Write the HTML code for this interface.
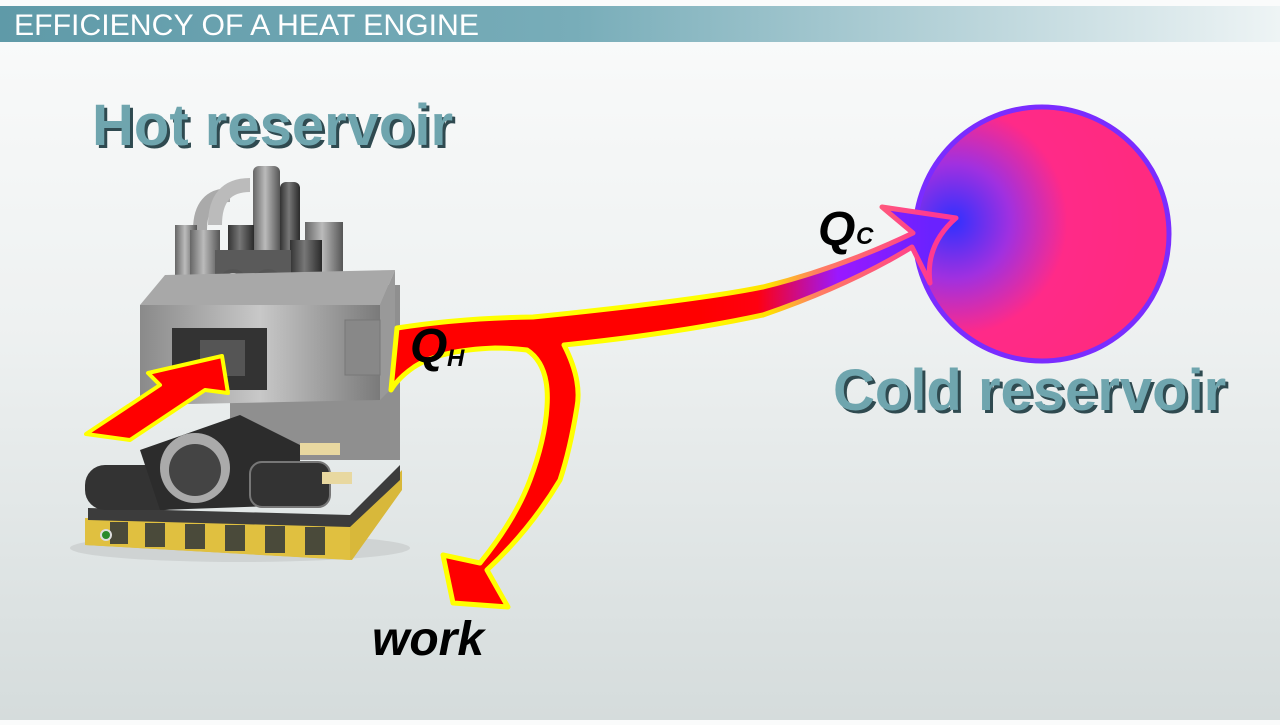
<!DOCTYPE html>
<html><head><style>
body{margin:0;width:1280px;height:720px;overflow:hidden;background:linear-gradient(180deg,#fafbfb 0%,#eef1f1 45%,#d5dcdc 100%);font-family:"Liberation Sans",sans-serif;}
</style></head><body>
<svg width="1280" height="720" viewBox="0 0 1280 720" xmlns="http://www.w3.org/2000/svg">
<defs>
<linearGradient id="hdr" x1="0" x2="1"><stop offset="0" stop-color="#5f9aa8"/><stop offset="0.45" stop-color="#78adb9"/><stop offset="1" stop-color="#eef4f5"/></linearGradient>
<linearGradient id="arr" x1="700" y1="0" x2="930" y2="0" gradientUnits="userSpaceOnUse"><stop offset="0" stop-color="#ff0000"/><stop offset="0.25" stop-color="#ff0010"/><stop offset="0.6" stop-color="#9a18ff"/><stop offset="1" stop-color="#6a22ff"/></linearGradient>
<linearGradient id="arrs" x1="700" y1="0" x2="930" y2="0" gradientUnits="userSpaceOnUse"><stop offset="0" stop-color="#ffff00"/><stop offset="0.3" stop-color="#ffe000"/><stop offset="0.5" stop-color="#ff8060"/><stop offset="1" stop-color="#ff3a90"/></linearGradient>
<radialGradient id="cir" cx="0.15" cy="0.45" r="0.75"><stop offset="0" stop-color="#3030ff"/><stop offset="0.3" stop-color="#a030e0"/><stop offset="0.6" stop-color="#ff2a88"/><stop offset="1" stop-color="#ff2a80"/></radialGradient>
<linearGradient id="metal" x1="0" x2="1"><stop offset="0" stop-color="#8a8a8a"/><stop offset="0.5" stop-color="#c8c8c8"/><stop offset="1" stop-color="#7a7a7a"/></linearGradient>
<linearGradient id="pipe" x1="0" x2="1"><stop offset="0" stop-color="#666"/><stop offset="0.45" stop-color="#bbb"/><stop offset="1" stop-color="#555"/></linearGradient>
<linearGradient id="dpipe" x1="0" x2="1"><stop offset="0" stop-color="#333"/><stop offset="0.45" stop-color="#777"/><stop offset="1" stop-color="#2a2a2a"/></linearGradient>
</defs>
<rect x="0" y="6" width="1280" height="36" fill="url(#hdr)"/>
<text x="14" y="35" font-size="30" fill="#fff" textLength="465" lengthAdjust="spacingAndGlyphs">EFFICIENCY OF A HEAT ENGINE</text>

<g font-weight="bold" font-size="58">
<text x="95" y="148" fill="#2f4a50">Hot reservoir</text>
<text x="92" y="145" fill="#6fa5ae">Hot reservoir</text>
<text x="836" y="413" fill="#2f4a50">Cold reservoir</text>
<text x="833" y="410" fill="#6fa5ae">Cold reservoir</text>
</g>

<!-- engine -->
<g>
<ellipse cx="240" cy="548" rx="170" ry="14" fill="#cfd3d3"/>
<polygon points="85,518 350,525 402,470 402,490 352,560 85,545" fill="#d8b83a"/>
<polygon points="85,518 350,525 350,560 85,545" fill="#e0c040"/>
<g fill="#4a4a3a"><rect x="110" y="522" width="18" height="22"/><rect x="145" y="523" width="20" height="24"/><rect x="185" y="524" width="20" height="25"/><rect x="225" y="525" width="20" height="26"/><rect x="265" y="526" width="20" height="27"/><rect x="305" y="527" width="20" height="28"/></g>
<circle cx="106" cy="535" r="5" fill="#2a8a2a" stroke="#ddd" stroke-width="2"/>
<polygon points="88,508 350,515 400,465 400,480 350,527 88,520" fill="#3c3c3c"/>
<polygon points="230,285 400,285 400,460 230,460" fill="#8f8f8f"/>
<path d="M200 230 Q200 195 230 195" stroke="#aaa" stroke-width="14" fill="none"/>
<path d="M215 225 Q215 185 250 185" stroke="#bbb" stroke-width="14" fill="none"/>
<rect x="175" y="225" width="22" height="75" fill="url(#pipe)"/>
<rect x="190" y="230" width="30" height="70" fill="url(#pipe)"/>
<rect x="253" y="166" width="27" height="120" rx="6" fill="url(#pipe)"/>
<rect x="280" y="182" width="20" height="100" rx="6" fill="url(#dpipe)"/>
<rect x="305" y="222" width="38" height="65" fill="url(#pipe)"/>
<rect x="228" y="225" width="26" height="60" fill="url(#dpipe)"/>
<rect x="290" y="240" width="32" height="60" fill="url(#dpipe)"/>
<rect x="215" y="250" width="76" height="45" fill="#5a5a5a"/>
<circle cx="233" cy="283" r="12" fill="#ccc" stroke="#555" stroke-width="4"/>
<circle cx="268" cy="283" r="12" fill="#ccc" stroke="#555" stroke-width="4"/>
<polygon points="140,305 380,305 380,400 140,405" fill="url(#metal)"/>
<polygon points="140,305 165,275 395,270 380,305" fill="#a8a8a8"/>
<polygon points="380,305 395,270 395,385 380,400" fill="#999"/>
<rect x="172" y="328" width="95" height="62" fill="#333"/>
<rect x="200" y="340" width="45" height="36" fill="#555"/>
<rect x="345" y="320" width="35" height="55" fill="#888" stroke="#777"/>
<rect x="85" y="465" width="100" height="45" rx="20" fill="#333"/>
<polygon points="140,450 240,415 300,445 300,505 160,510" fill="#2c2c2c"/>
<circle cx="195" cy="468" r="35" fill="#aaa"/><circle cx="195" cy="470" r="26" fill="#444"/>
<rect x="250" y="462" width="80" height="45" rx="12" fill="#333" stroke="#777" stroke-width="2"/>
<rect x="300" y="443" width="40" height="12" fill="#e8d8a0"/><rect x="322" y="472" width="30" height="12" fill="#e8d8a0"/>
</g>
<!-- input arrow -->
<polygon points="86,434 160,385 148,373 222,356 228,393 205,390 130,440" fill="#ff0000" stroke="#ffff00" stroke-width="4" stroke-linejoin="round"/>

<!-- cold circle -->
<circle cx="1042" cy="234" r="127" fill="url(#cir)" stroke="#7a2cff" stroke-width="5"/>

<!-- main arrow -->
<path d="M391 390 L397 328 Q460 318 533 317 Q700 300 763 287 Q840 268 913 233 L882 207 L956 218 Q925 245 930 283 L912 247 Q850 285 763 315 Q680 333 564 345 Q582 380 577 407 Q570 450 560 480 Q530 530 487 570 L508 607 L453 603 L443 555 L480 563 Q515 520 530 480 Q545 440 547 407 Q550 365 527 350 Q510 348 495 348 Q440 350 414 367 Q398 378 391 390 Z" fill="url(#arr)" stroke="url(#arrs)" stroke-width="5" stroke-linejoin="round"/>

<g font-weight="bold" font-style="italic" fill="#000">
<text x="410" y="362" font-size="48">Q</text><text x="447" y="366" font-size="24">H</text>
<text x="818" y="245" font-size="48">Q</text><text x="856" y="244" font-size="24">C</text>
<text x="372" y="655" font-size="48">work</text>
</g>
</svg>
</body></html>
